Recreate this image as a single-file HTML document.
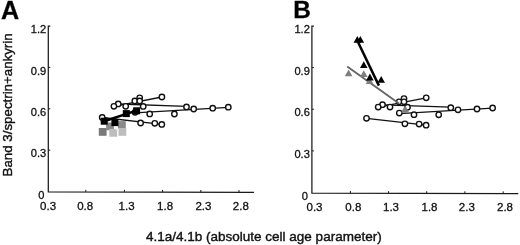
<!DOCTYPE html>
<html><head><meta charset="utf-8"><title>Figure</title>
<style>
html,body{margin:0;padding:0;background:#fff;}
body{width:520px;height:245px;overflow:hidden;font-family:"Liberation Sans",sans-serif;}
svg{display:block;filter:blur(0.35px)}
text{font-family:"Liberation Sans",sans-serif;fill:#111;stroke:#111;stroke-width:0.3px}
.t{font-size:11.5px}
.ti{font-size:13.5px}
.p{font-size:24.4px;font-weight:bold;fill:#000}
</style></head><body>
<svg width="520" height="245" viewBox="0 0 520 245">
<rect width="520" height="245" fill="#fff"/>
<text x="1.0" y="18.6" class="p" style="font-size:25.2px">A</text>
<text x="293.2" y="18.2" class="p">B</text>
<text class="ti" style="font-size:13.3px;stroke-width:0.4px" transform="translate(12.2,176.4) rotate(-90)">Band 3/spectrin+ankyrin</text>
<text class="ti" x="146.0" y="240.7" style="stroke-width:0.4px">4.1a/4.1b (absolute cell age parameter)</text>
<path d="M50.3 26.0 H48.3 V191.9 L254.0 192.3" fill="none" stroke="#1a1a1a" stroke-width="1.25"/>
<path d="M48.3 67.4 h2" stroke="#1a1a1a" stroke-width="1"/>
<path d="M48.3 108.8 h2" stroke="#1a1a1a" stroke-width="1"/>
<path d="M48.3 150.2 h2" stroke="#1a1a1a" stroke-width="1"/>
<path d="M85.8 192.0 v-2.2" stroke="#1a1a1a" stroke-width="1"/>
<path d="M124.4 192.0 v-2.2" stroke="#1a1a1a" stroke-width="1"/>
<path d="M162.6 192.1 v-2.2" stroke="#1a1a1a" stroke-width="1"/>
<path d="M200.8 192.2 v-2.2" stroke="#1a1a1a" stroke-width="1"/>
<path d="M239.0 192.3 v-2.2" stroke="#1a1a1a" stroke-width="1"/>
<text x="46.2" y="33.2" text-anchor="end" class="t" style="font-size:11.1px">1.2</text>
<text x="46.2" y="74.6" text-anchor="end" class="t" style="font-size:11.1px">0.9</text>
<text x="46.2" y="116.0" text-anchor="end" class="t" style="font-size:11.1px">0.6</text>
<text x="46.2" y="157.4" text-anchor="end" class="t" style="font-size:11.1px">0.3</text>
<text x="44.4" y="198.6" text-anchor="end" class="t" style="font-size:11.1px">0</text>
<text x="48.1" y="209.8" text-anchor="middle" class="t">0.3</text>
<text x="85.2" y="209.8" text-anchor="middle" class="t">0.8</text>
<text x="126.6" y="209.8" text-anchor="middle" class="t">1.3</text>
<text x="165.1" y="209.8" text-anchor="middle" class="t">1.8</text>
<text x="203.4" y="209.8" text-anchor="middle" class="t">2.3</text>
<text x="240.8" y="209.8" text-anchor="middle" class="t">2.8</text>
<line x1="113.9" y1="106.3" x2="161.9" y2="97.0" stroke="#111" stroke-width="1.3"/>
<line x1="118.5" y1="104.0" x2="186.4" y2="106.4" stroke="#111" stroke-width="1.3"/>
<line x1="134.9" y1="112.8" x2="228.3" y2="107.4" stroke="#111" stroke-width="1.3"/>
<line x1="102.2" y1="117.5" x2="161.8" y2="124.4" stroke="#111" stroke-width="1.3"/>
<circle cx="161.9" cy="97.0" r="2.7" fill="#fff" stroke="#111" stroke-width="1.4"/>
<circle cx="139.7" cy="97.8" r="2.7" fill="#fff" stroke="#111" stroke-width="1.4"/>
<circle cx="134.8" cy="101.0" r="2.7" fill="#fff" stroke="#111" stroke-width="1.4"/>
<circle cx="139.7" cy="101.0" r="2.7" fill="#fff" stroke="#111" stroke-width="1.4"/>
<circle cx="118.2" cy="103.9" r="2.7" fill="#fff" stroke="#111" stroke-width="1.4"/>
<circle cx="113.9" cy="106.3" r="2.7" fill="#fff" stroke="#111" stroke-width="1.4"/>
<circle cx="125.7" cy="106.3" r="2.7" fill="#fff" stroke="#111" stroke-width="1.4"/>
<circle cx="143.2" cy="106.4" r="2.7" fill="#fff" stroke="#111" stroke-width="1.4"/>
<circle cx="186.5" cy="106.9" r="2.7" fill="#fff" stroke="#111" stroke-width="1.4"/>
<circle cx="193.7" cy="109.0" r="2.7" fill="#fff" stroke="#111" stroke-width="1.4"/>
<circle cx="212.7" cy="108.2" r="2.7" fill="#fff" stroke="#111" stroke-width="1.4"/>
<circle cx="228.3" cy="107.2" r="2.7" fill="#fff" stroke="#111" stroke-width="1.4"/>
<circle cx="149.7" cy="113.9" r="2.7" fill="#fff" stroke="#111" stroke-width="1.4"/>
<circle cx="174.4" cy="114.0" r="2.7" fill="#fff" stroke="#111" stroke-width="1.4"/>
<circle cx="102.2" cy="117.5" r="2.7" fill="#fff" stroke="#111" stroke-width="1.4"/>
<circle cx="140.6" cy="123.0" r="2.7" fill="#fff" stroke="#111" stroke-width="1.4"/>
<circle cx="154.8" cy="123.3" r="2.7" fill="#fff" stroke="#111" stroke-width="1.4"/>
<circle cx="161.8" cy="124.4" r="2.7" fill="#fff" stroke="#111" stroke-width="1.4"/>
<circle cx="135.0" cy="112.3" r="2.7" fill="#fff" stroke="#111" stroke-width="1.4"/>
<rect x="98.8" y="128.0" width="7.8" height="7.8" fill="#7a7a7a"/>
<rect x="106.1" y="122.5" width="7.8" height="7.8" fill="#8a8a8a"/>
<rect x="118.0" y="121.1" width="7.8" height="7.8" fill="#8a8a8a"/>
<rect x="109.3" y="128.9" width="7.8" height="7.8" fill="#bdbdbd"/>
<rect x="118.5" y="128.0" width="7.8" height="7.8" fill="#bdbdbd"/>
<path d="M115.6 128.8 L119.2 128.8 L117.4 131.8Z" fill="#eee"/>
<line x1="104.2" y1="121.2" x2="137" y2="110.4" stroke="#000" stroke-width="2.5"/>
<rect x="100.7" y="117.7" width="7.0" height="7.0" fill="#000"/>
<rect x="111.4" y="119.1" width="7.0" height="7.0" fill="#000"/>
<rect x="122.8" y="110.1" width="7.0" height="7.0" fill="#000"/>
<rect x="133.1" y="107.3" width="7.0" height="7.0" fill="#000"/>
<path d="M313.9 26.0 H311.9 V193.1 L518.3 193.6" fill="none" stroke="#1a1a1a" stroke-width="1.25"/>
<path d="M311.9 67.6 h2" stroke="#1a1a1a" stroke-width="1"/>
<path d="M311.9 109.2 h2" stroke="#1a1a1a" stroke-width="1"/>
<path d="M311.9 150.9 h2" stroke="#1a1a1a" stroke-width="1"/>
<path d="M350.4 193.2 v-2.2" stroke="#1a1a1a" stroke-width="1"/>
<path d="M388.6 193.3 v-2.2" stroke="#1a1a1a" stroke-width="1"/>
<path d="M426.7 193.4 v-2.2" stroke="#1a1a1a" stroke-width="1"/>
<path d="M464.9 193.5 v-2.2" stroke="#1a1a1a" stroke-width="1"/>
<path d="M503.2 193.6 v-2.2" stroke="#1a1a1a" stroke-width="1"/>
<text x="309.8" y="33.2" text-anchor="end" class="t" style="font-size:11.1px">1.2</text>
<text x="309.8" y="74.8" text-anchor="end" class="t" style="font-size:11.1px">0.9</text>
<text x="309.8" y="116.4" text-anchor="end" class="t" style="font-size:11.1px">0.6</text>
<text x="309.8" y="158.1" text-anchor="end" class="t" style="font-size:11.1px">0.3</text>
<text x="308.0" y="200.0" text-anchor="end" class="t" style="font-size:11.1px">0</text>
<text x="314.5" y="211.3" text-anchor="middle" class="t">0.3</text>
<text x="353.3" y="211.3" text-anchor="middle" class="t">0.8</text>
<text x="391.0" y="211.3" text-anchor="middle" class="t">1.3</text>
<text x="429.5" y="211.3" text-anchor="middle" class="t">1.8</text>
<text x="466.8" y="211.3" text-anchor="middle" class="t">2.3</text>
<text x="505.0" y="211.3" text-anchor="middle" class="t">2.8</text>
<line x1="378.2" y1="107.1" x2="426.2" y2="97.8" stroke="#111" stroke-width="1.3"/>
<line x1="382.8" y1="104.8" x2="450.7" y2="107.2" stroke="#111" stroke-width="1.3"/>
<line x1="399.2" y1="113.6" x2="492.6" y2="108.2" stroke="#111" stroke-width="1.3"/>
<line x1="366.5" y1="118.3" x2="426.1" y2="125.2" stroke="#111" stroke-width="1.3"/>
<circle cx="426.2" cy="97.8" r="2.7" fill="#fff" stroke="#111" stroke-width="1.4"/>
<circle cx="404.0" cy="98.6" r="2.7" fill="#fff" stroke="#111" stroke-width="1.4"/>
<circle cx="399.1" cy="101.8" r="2.7" fill="#fff" stroke="#111" stroke-width="1.4"/>
<circle cx="404.0" cy="101.8" r="2.7" fill="#fff" stroke="#111" stroke-width="1.4"/>
<circle cx="382.5" cy="104.7" r="2.7" fill="#fff" stroke="#111" stroke-width="1.4"/>
<circle cx="378.2" cy="107.1" r="2.7" fill="#fff" stroke="#111" stroke-width="1.4"/>
<circle cx="390.0" cy="107.1" r="2.7" fill="#fff" stroke="#111" stroke-width="1.4"/>
<circle cx="407.5" cy="107.2" r="2.7" fill="#fff" stroke="#111" stroke-width="1.4"/>
<circle cx="450.8" cy="107.7" r="2.7" fill="#fff" stroke="#111" stroke-width="1.4"/>
<circle cx="458.0" cy="109.8" r="2.7" fill="#fff" stroke="#111" stroke-width="1.4"/>
<circle cx="477.0" cy="109.0" r="2.7" fill="#fff" stroke="#111" stroke-width="1.4"/>
<circle cx="492.6" cy="108.0" r="2.7" fill="#fff" stroke="#111" stroke-width="1.4"/>
<circle cx="414.0" cy="114.7" r="2.7" fill="#fff" stroke="#111" stroke-width="1.4"/>
<circle cx="438.7" cy="114.8" r="2.7" fill="#fff" stroke="#111" stroke-width="1.4"/>
<circle cx="366.5" cy="118.3" r="2.7" fill="#fff" stroke="#111" stroke-width="1.4"/>
<circle cx="404.9" cy="123.8" r="2.7" fill="#fff" stroke="#111" stroke-width="1.4"/>
<circle cx="419.1" cy="124.1" r="2.7" fill="#fff" stroke="#111" stroke-width="1.4"/>
<circle cx="426.1" cy="125.2" r="2.7" fill="#fff" stroke="#111" stroke-width="1.4"/>
<circle cx="399.3" cy="113.1" r="2.7" fill="#fff" stroke="#111" stroke-width="1.4"/>
<line x1="347.2" y1="66.6" x2="399.0" y2="103.4" stroke="#666" stroke-width="1.9"/>
<path d="M344.8 76.3 L348.6 69.5 L352.4 76.3Z" fill="#7e7e7e"/>
<path d="M360.0 77.0 L363.8 70.2 L367.6 77.0Z" fill="#7e7e7e"/>
<path d="M365.8 84.0 L369.6 77.2 L373.4 84.0Z" fill="#7e7e7e"/>
<path d="M400.9 112.7 L405.1 105.3 L409.3 112.7Z" fill="#7e7e7e"/>
<line x1="357.5" y1="41" x2="378.9" y2="85.6" stroke="#000" stroke-width="2.5"/>
<path d="M353.5 42.8 L357.3 36.0 L361.1 42.8Z" fill="#000"/>
<path d="M356.5 42.8 L360.3 36.0 L364.1 42.8Z" fill="#000"/>
<path d="M360.0 68.0 L363.8 61.2 L367.6 68.0Z" fill="#000"/>
<path d="M366.1 80.4 L369.9 73.6 L373.7 80.4Z" fill="#000"/>
<path d="M377.4 82.8 L381.2 76.0 L385.0 82.8Z" fill="#000"/>
</svg>
</body></html>
